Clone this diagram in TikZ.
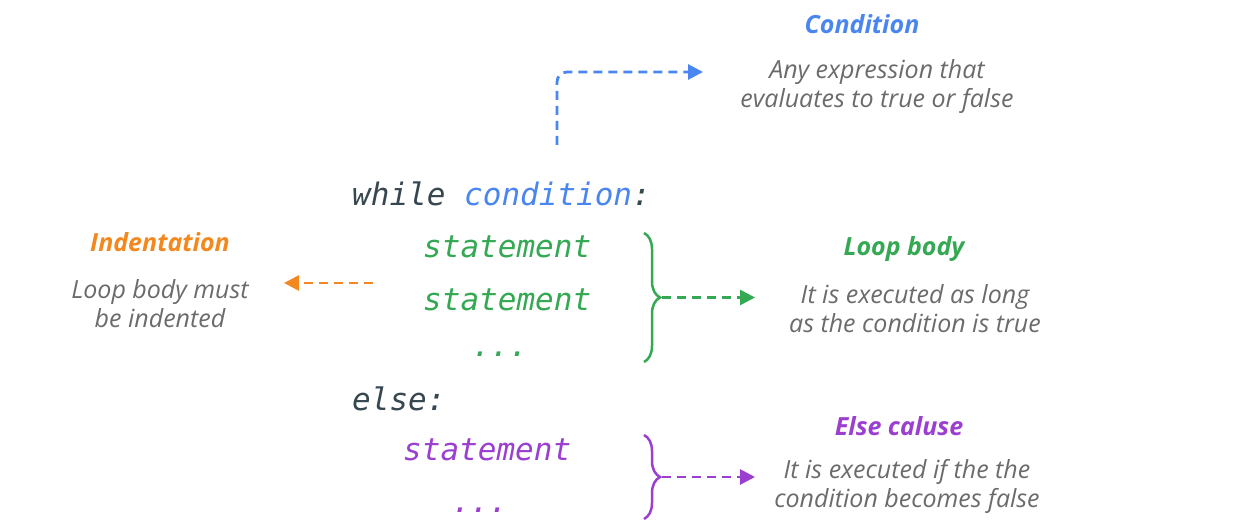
\documentclass[tikz,border=0pt]{standalone}
\usepackage{fontspec}
\setmainfont{Open Sans}
\setmonofont{DejaVu Sans Mono}
\usetikzlibrary{arrows.meta,decorations.pathreplacing}

\definecolor{codegray}{HTML}{37474F}
\definecolor{txtgray}{HTML}{6B6B6B}
\definecolor{cblue}{HTML}{4A86F0}
\definecolor{cgreen}{HTML}{34A853}
\definecolor{corange}{HTML}{F2881E}
\definecolor{cpurple}{HTML}{9B3FD0}

\tikzset{
  code/.style={anchor=base west, inner sep=0pt, font=\ttfamily\itshape\fontsize{31}{31}\selectfont},
  codedots/.style={code, anchor=base},
  head/.style={anchor=base, inner sep=0pt, font=\bfseries\itshape\fontsize{25}{29}\selectfont},
  desc/.style={anchor=center, inner sep=0pt, align=center, text=txtgray,
    font=\itshape\fontsize{25}{29}\selectfont},
  link/.style={line width=2.8pt, dash pattern=on 9pt off 6pt,
    -{Triangle[length=15pt,width=15pt]}},
  bracestyle/.style={line width=2.5pt, decorate,
    decoration={brace, amplitude=16pt, aspect=0.5}},
}

\begin{document}
\begin{tikzpicture}[x=1pt,y=-1pt]
\useasboundingbox (0,0) rectangle (1241,526);

% while header and loop body
\node[code, text=codegray] (while) at (352,206) {while \textcolor{cblue}{condition}:};
\coordinate (condfoot) at (557,145);
\node[code, text=cgreen] (st1) at (423,258) {statement};
\node[code, text=cgreen] (st2) at (423,310) {statement};
\node[codedots, text=cgreen] (dots1) at (500,356) {...};

% else clause
\node[code, text=codegray] (else) at (352,410) {else:};
\node[code, text=cpurple] (st3) at (403,460) {statement};
\node[codedots, text=cpurple] (dots2) at (480,512) {...};

% braces
\coordinate (b1top) at (644,233);
\coordinate (b1bot) at (644,362);
\draw[bracestyle, cgreen] (b1top) -- (b1bot);
\coordinate (b1tip) at (662,297.5);
\coordinate (b2top) at (644,435);
\coordinate (b2bot) at (644,519);
\draw[bracestyle, cpurple] (b2top) -- (b2bot);
\coordinate (b2tip) at (662,477);

% Condition annotation
\node[head, text=cblue] (condhead) at (862,34) {Condition};
\node[desc] (conddesc) at (877,87) {Any expression that\\evaluates to true or false};
\coordinate (condend) at (703,72);
\draw[link, cblue, rounded corners=10pt] (condfoot) |- (condend);

% Loop body annotation
\node[head, text=cgreen] (bodyhead) at (904,256) {Loop body};
\node[desc] (bodydesc) at (915,309) {It is executed as long\\as the condition is true};
\coordinate (bodyend) at (755,297.5);
\draw[link, cgreen] (b1tip) -- (bodyend);

% Indentation annotation
\node[head, text=corange] (indhead) at (160,252) {Indentation};
\node[desc] (inddesc) at (160,304) {Loop body must\\be indented};
\coordinate (indstart) at (373,283);
\coordinate (indend) at (284,283);
\draw[link, corange] (indstart) -- (indend);

% Else clause annotation
\node[head, text=cpurple] (elsehead) at (899,435) {Else caluse};
\node[desc] (elsedesc) at (907,486) {It is executed if the the\\condition becomes false};
\coordinate (elseend) at (755,477);
\draw[link, cpurple] (b2tip) -- (elseend);
\end{tikzpicture}
\end{document}
